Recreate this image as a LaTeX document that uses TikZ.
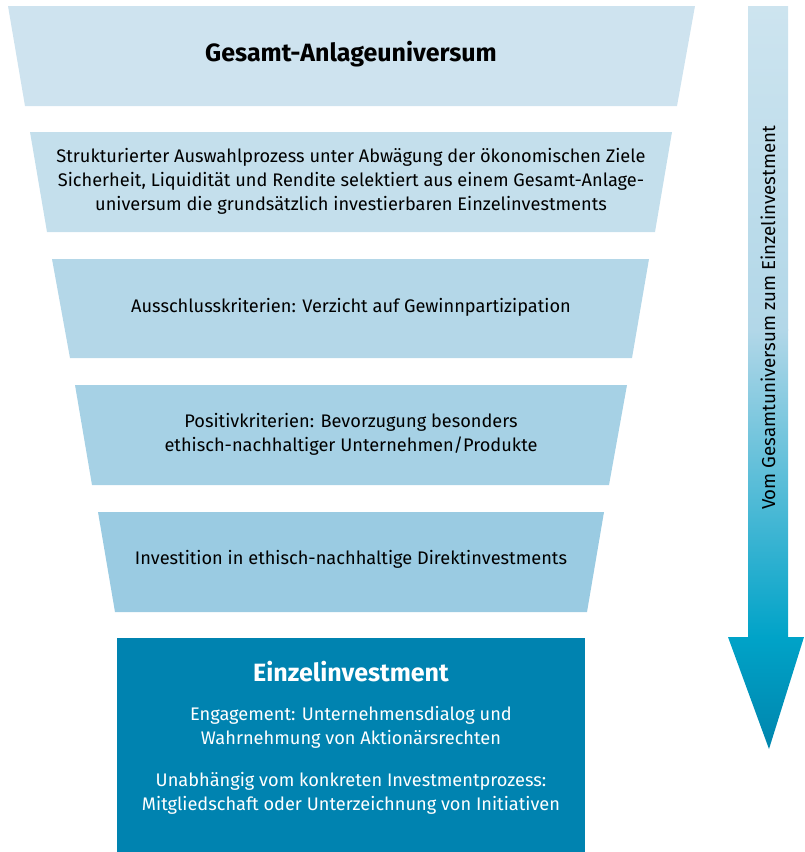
\documentclass[tikz,border=0pt]{standalone}
\usepackage{fontspec}
\setmainfont{Fira Sans}
\definecolor{tA}{HTML}{CEE3EF}
\definecolor{tB}{HTML}{C4DFEC}
\definecolor{tC}{HTML}{B4D7E8}
\definecolor{tD}{HTML}{A6D1E5}
\definecolor{tE}{HTML}{9ACBE2}
\definecolor{boxblue}{HTML}{0083B0}
\definecolor{arrTop}{HTML}{CDE4EF}
\definecolor{arrMid}{HTML}{B2D7E8}
\definecolor{arrLow}{HTML}{00A3C8}
\definecolor{arrTip}{HTML}{0085AD}
\begin{document}
\begin{tikzpicture}[x=1pt,y=-1pt,
  txt/.style={align=center,font=\fontsize{18.2}{24}\selectfont,text=black,inner sep=0pt},
  ttl/.style={align=center,font=\fontsize{25}{28}\selectfont\bfseries,inner sep=0pt}]
\useasboundingbox (0,0) rectangle (804,852);
% funnel stages
\fill[tA] (8,6) -- (695,6) -- (677,106) -- (25,106) -- cycle;
\fill[tB] (30,132) -- (672,132) -- (655,232) -- (47,232) -- cycle;
\fill[tC] (52,259) -- (649,259) -- (632,358) -- (70,358) -- cycle;
\fill[tD] (75,385) -- (627,385) -- (609,485) -- (92,485) -- cycle;
\fill[tE] (98,512) -- (604,512) -- (587,612) -- (115,612) -- cycle;
\fill[boxblue] (117,638) rectangle (585,852);
% texts
\node[ttl] (t1) at (351,54) {Gesamt-Anlageuniversum};
\node[txt] (t2) at (351,181) {Strukturierter Auswahlprozess unter Abwägung der ökonomischen Ziele\\Sicherheit, Liquidität und Rendite selektiert aus einem Gesamt-Anlage-\\universum die grundsätzlich investierbaren Einzelinvestments};
\node[txt] (t3) at (351,307) {Ausschlusskriterien: Verzicht auf Gewinnpartizipation};
\node[txt] (t4) at (351,434) {Positivkriterien: Bevorzugung besonders\\ethisch-nachhaltiger Unternehmen/Produkte};
\node[txt] (t5) at (351,559) {Investition in ethisch-nachhaltige Direktinvestments};
\node[ttl,text=white] (t6) at (351,672) {Einzelinvestment};
\node[txt,text=white] (t7) at (351,727) {Engagement: Unternehmensdialog und\\Wahrnehmung von Aktionärsrechten};
\node[txt,text=white] (t8) at (351,793) {Unabhängig vom konkreten Investmentprozess:\\Mitgliedschaft oder Unterzeichnung von Initiativen};
% arrow
\shade[top color=arrTop,bottom color=arrMid] (748,6) rectangle (788,330);
\shade[top color=arrMid,bottom color=arrLow] (748,329.5) rectangle (788,637.5);
\shade[top color=arrLow,bottom color=arrTip] (728,637) -- (804,637) -- (769,749) -- cycle;
\node[txt,rotate=90,font=\fontsize{18.7}{24}\selectfont] (lab) at (768,318) {Vom Gesamtuniversum zum Einzelinvestment};
\end{tikzpicture}
\end{document}
